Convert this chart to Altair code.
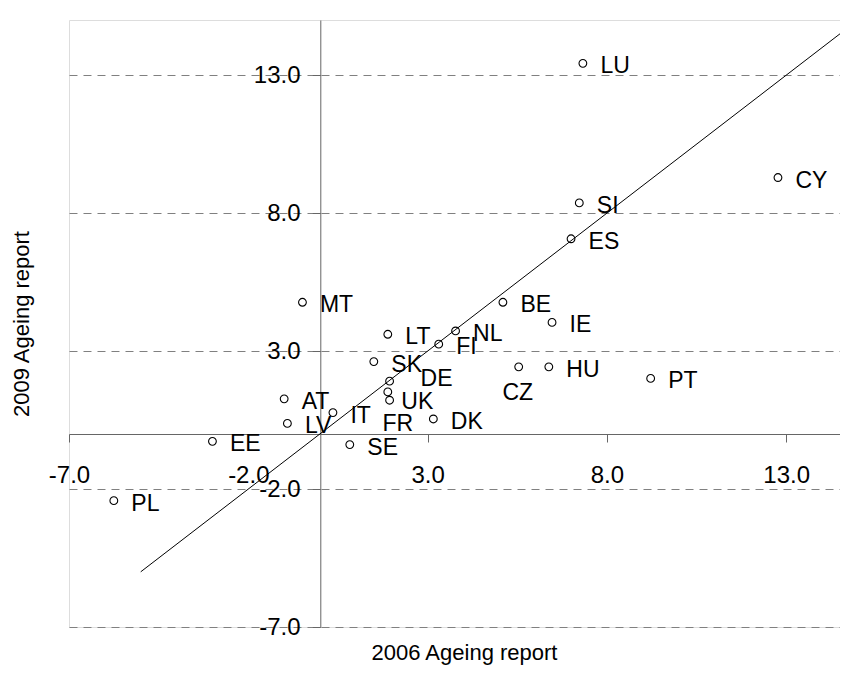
import altair as alt
import pandas as pd

# ---- data ----
countries = ["LU", "CY", "SI", "ES", "MT", "BE", "IE", "LT", "NL", "FI", "SK", "HU",
             "CZ", "PT", "DE", "FR", "UK", "AT", "IT", "LV", "DK", "SE", "EE", "PL"]
report_2006 = [7.33, 12.77, 7.23, 7.00, -0.49, 5.10, 6.47, 1.89, 3.78, 3.31, 1.50, 6.38,
               5.54, 9.22, 1.94, 1.89, 1.94, -1.00, 0.36, -0.91, 3.16, 0.83, -3.00, -5.75]
report_2009 = [13.43, 9.29, 8.37, 7.07, 4.77, 4.77, 4.04, 3.61, 3.73, 3.25, 2.62, 2.43,
               2.43, 2.01, 1.91, 1.52, 1.22, 1.27, 0.77, 0.38, 0.54, -0.39, -0.27, -2.42]
tick_values = [-7, -2, 3, 8, 13]
x_domain = [-7, 14.5]
y_domain = [-7, 15]
line_x = [-5, 15]
line_y = [-5, 15]

df = pd.DataFrame({"country": countries, "x": report_2006, "y": report_2009})
line_df = pd.DataFrame({"x": line_x, "y": line_y})

FONT = "Liberation Sans"
label_expr = "(datum.value < 0 ? '-' : '') + format(abs(datum.value), '.1f')"

xscale = alt.Scale(domain=x_domain, nice=False, zero=False)
yscale = alt.Scale(domain=y_domain, nice=False, zero=False)

xaxis = alt.Axis(values=tick_values, labelExpr=label_expr, offset=-193, tickSize=8,
                 labelPadding=21.6, labelFontSize=24, labelColor="black", grid=False,
                 domainColor="#666666", tickColor="#666666", labelFlush=False,
                 labelOverlap=False, title="2006 Ageing report", titleFontSize=22,
                 titleFontWeight="normal", titleColor="black", titlePadding=155,
                 titleX=395)
yaxis = alt.Axis(values=tick_values, labelExpr=label_expr, offset=-251.3, tickSize=8,
                 labelPadding=12.3, labelFontSize=24, labelColor="black", grid=True,
                 gridDash=[8, 6], gridColor="#808080", gridWidth=1,
                 domainColor="#666666", tickColor="#666666", labelFlush=False,
                 labelOverlap=False, title="2009 Ageing report", titleFontSize=22,
                 titleFontWeight="normal", titleColor="black", titlePadding=220)

base = alt.Chart(df)

points = base.mark_point(shape="circle", filled=False, color="black", size=60,
                         strokeWidth=1.1, opacity=1).encode(
    x=alt.X("x:Q", scale=xscale, axis=xaxis),
    y=alt.Y("y:Q", scale=yscale, axis=yaxis),
)

line = alt.Chart(line_df).mark_line(color="black", strokeWidth=1, clip=True).encode(
    x=alt.X("x:Q", scale=xscale),
    y=alt.Y("y:Q", scale=yscale),
)

special = ["DE", "FR", "UK", "CZ"]
text_style = dict(align="left", baseline="middle", fontSize=23, color="black", font=FONT)

labels_default = base.transform_filter(
    ~alt.FieldOneOfPredicate(field="country", oneOf=special)
).mark_text(dx=17.5, dy=3, **text_style).encode(
    x=alt.X("x:Q", scale=xscale), y=alt.Y("y:Q", scale=yscale), text="country:N")

def special_label(name, dx, dy):
    return base.transform_filter(alt.datum.country == name).mark_text(
        dx=dx, dy=dy, **text_style).encode(
        x=alt.X("x:Q", scale=xscale), y=alt.Y("y:Q", scale=yscale), text="country:N")

labels_de = special_label("DE", 31, -2.5)
labels_fr = special_label("FR", -5.3, 32)
labels_uk = special_label("UK", 11.7, 2)
labels_cz = special_label("CZ", -16.3, 26.5)

chart = alt.layer(line, points, labels_default, labels_de, labels_fr, labels_uk, labels_cz).properties(
    width=771, height=607,
    autosize=alt.AutoSizeParams(type="none"),
    padding={"left": 61, "top": 12, "right": 0, "bottom": 40},
).configure_view(stroke=None).configure(font=FONT)

chart.save("out.html", embed_options={"renderer": "svg", "actions": False})
